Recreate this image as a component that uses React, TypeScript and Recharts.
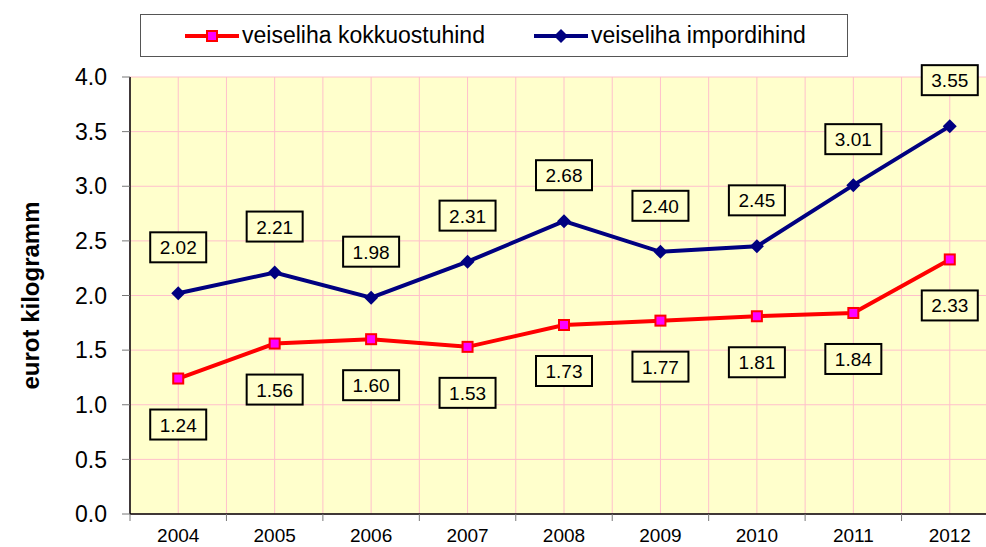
import React from "react";
import {
  LineChart,
  Line,
  XAxis,
  YAxis,
  CartesianGrid,
  Legend,
  LabelList,
} from "recharts";

const years = ["2004", "2005", "2006", "2007", "2008", "2009", "2010", "2011", "2012"];
const kokkuostuhind = [1.24, 1.56, 1.6, 1.53, 1.73, 1.77, 1.81, 1.84, 2.33];
const impordihind = [2.02, 2.21, 1.98, 2.31, 2.68, 2.4, 2.45, 3.01, 3.55];
const yTicks = [0, 0.5, 1, 1.5, 2, 2.5, 3, 3.5, 4];

const data = years.map((y, i) => ({
  idx: i,
  year: y,
  kokku: kokkuostuhind[i],
  import: impordihind[i],
}));

// ticks at every half step: integers carry labels, half steps carry tick marks
const xTicks: number[] = [];
for (let i = -0.5; i <= years.length - 0.5; i += 0.5) xTicks.push(i);

const FONT = "Arial, 'Liberation Sans', sans-serif";

const XTick = (props: any) => {
  const { x, y, payload } = props;
  const v = payload.value;
  if (Number.isInteger(v)) {
    return (
      <text x={x} y={y + 28} textAnchor="middle" fontSize={19} fontFamily={FONT} fill="#000">
        {years[v]}
      </text>
    );
  }
  return <line x1={x} x2={x} y1={y} y2={y + 7} stroke="#777" strokeWidth={1} />;
};

const SquareDot = (props: any) => {
  const { cx, cy } = props;
  return <rect x={cx - 5} y={cy - 5} width={10} height={10} fill="#FF00FF" stroke="#FF0000" strokeWidth={2} />;
};

const DiamondDot = (props: any) => {
  const { cx, cy } = props;
  const r = 7;
  return <polygon points={`${cx},${cy - r} ${cx + r},${cy} ${cx},${cy + r} ${cx - r},${cy}`} fill="#000080" />;
};

const boxLabel = (dy: number) => (props: any) => {
  const { x, y, value } = props;
  const w = 56;
  const h = 30;
  const cy = y + dy;
  return (
    <g>
      <rect x={x - w / 2} y={cy - h / 2} width={w} height={h} fill="#FFFFCC" stroke="#000" strokeWidth={2} />
      <text x={x} y={cy + 7} textAnchor="middle" fontSize={19} fontFamily={FONT} fill="#000">
        {Number(value).toFixed(2)}
      </text>
    </g>
  );
};

const LegendBox = () => (
  <div
    style={{
      border: "1px solid #555",
      background: "#fff",
      height: 43,
      boxSizing: "border-box",
      display: "flex",
      alignItems: "center",
      fontFamily: FONT,
      fontSize: 23,
      color: "#000",
    }}
  >
    <svg width={56} height={14} style={{ marginLeft: 43 }}>
      <line x1={1} x2={55} y1={7} y2={7} stroke="#FF0000" strokeWidth={4} />
      <rect x={23} y={2} width={10} height={10} fill="#FF00FF" stroke="#FF0000" strokeWidth={2} />
    </svg>
    <span style={{ marginLeft: 2 }}>veiseliha kokkuostuhind</span>
    <svg width={56} height={16} style={{ marginLeft: 48 }}>
      <line x1={1} x2={55} y1={8} y2={8} stroke="#000080" strokeWidth={4} />
      <polygon points="28,1 35,8 28,15 21,8" fill="#000080" />
    </svg>
    <span style={{ marginLeft: 2 }}>veiseliha impordihind</span>
  </div>
);

export default function App() {
  return (
    <div
      style={{
        position: "fixed",
        left: 0,
        top: 0,
        width: 986,
        height: 547,
        overflow: "hidden",
        background: "#fff",
      }}
    >
      <LineChart
        width={998}
        height={547}
        data={data}
        margin={{ top: 77, right: 0, left: 0, bottom: 3 }}
      >
        <CartesianGrid stroke="#FFC0CB" strokeWidth={1} fill="#FFFFCC" />
        <XAxis
          type="number"
          dataKey="idx"
          domain={[-0.5, years.length - 0.5]}
          ticks={xTicks}
          interval={0}
          tick={<XTick />}
          tickLine={false}
          tickSize={0}
          tickMargin={0}
          axisLine={{ stroke: "#000", strokeWidth: 1.5 }}
          height={30}
        />
        <YAxis
          domain={[0, 4]}
          ticks={yTicks}
          interval={0}
          width={130}
          tickFormatter={(v: number) => v.toFixed(1)}
          tick={{ fontSize: 23, fontFamily: FONT, fill: "#000" }}
          tickSize={8}
          tickMargin={15}
          tickLine={{ stroke: "#777" }}
          axisLine={{ stroke: "#000", strokeWidth: 1.5 }}
          label={{
            value: "eurot kilogramm",
            angle: -90,
            position: "insideLeft",
            offset: 30,
            textAnchor: "middle",
            style: { fontSize: 24, fontWeight: "bold", fontFamily: FONT, fill: "#000", textAnchor: "middle" },
          }}
        />
        <Legend
          verticalAlign="middle"
          align="center"
          layout="horizontal"
          content={<LegendBox />}
          wrapperStyle={{ top: 14, left: 140, width: 708 }}
        />
        <Line
          type="linear"
          dataKey="kokku"
          name="veiseliha kokkuostuhind"
          stroke="#FF0000"
          strokeWidth={4}
          dot={<SquareDot />}
          activeDot={false}
          isAnimationActive={false}
        >
          <LabelList dataKey="kokku" content={boxLabel(46)} />
        </Line>
        <Line
          type="linear"
          dataKey="import"
          name="veiseliha impordihind"
          stroke="#000080"
          strokeWidth={4}
          dot={<DiamondDot />}
          activeDot={false}
          isAnimationActive={false}
        >
          <LabelList dataKey="import" content={boxLabel(-46)} />
        </Line>
      </LineChart>
    </div>
  );
}
